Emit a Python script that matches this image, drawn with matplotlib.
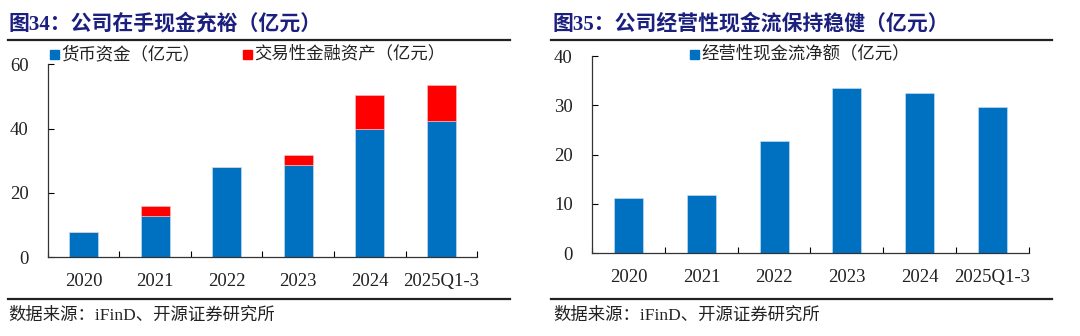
import numpy as np
import matplotlib
matplotlib.use("Agg")
import matplotlib.pyplot as plt
from matplotlib.lines import Line2D

plt.rcParams['font.family'] = ['Liberation Serif', 'Noto Sans CJK SC', 'DejaVu Sans']

# data
years = ["2020", "2021", "2022", "2023", "2024", "2025Q1-3"]
cash = [8.0, 12.8, 28.0, 28.6, 39.9, 42.4]
trading_assets = [0.0, 3.2, 0.1, 3.1, 10.6, 11.2]
op_cashflow = [11.2, 11.9, 22.8, 33.6, 32.4, 29.7]

title_left = "图34：公司在手现金充裕（亿元）"
title_right = "图35：公司经营性现金流保持稳健（亿元）"
source = "数据来源：iFinD、开源证券研究所"

blue = "#0070C0"
red = "#FF0000"
navy = "#1B1F7E"
cjk = ['Liberation Serif', 'Noto Sans CJK SC']

fig = plt.figure(figsize=(10.8, 3.36), dpi=100)


def style_axis(ax, ymax, step):
    x = np.arange(len(years))
    ax.set_xlim(-0.5, len(years) - 0.5)
    ax.set_ylim(0, ymax)
    ax.set_yticks(np.arange(0, ymax + 1, step))
    ax.set_xticks(x)
    ax.set_xticklabels(years)
    ax.set_xticks(np.arange(-0.5, len(years), 1.0), minor=True)
    ax.tick_params(axis='x', which='major', length=0, pad=11, labelsize=13.5, colors="#222222")
    ax.tick_params(axis='x', which='minor', direction='in', length=4, width=0.8)
    ax.tick_params(axis='y', direction='in', length=4, width=0.8, pad=14, labelsize=13.5,
                   labelcolor="#222222")
    for s in ['top', 'right']:
        ax.spines[s].set_visible(False)
    for s in ['left', 'bottom']:
        ax.spines[s].set_linewidth(0.9)
        ax.spines[s].set_color("#333333")
    return x


# left chart: cash + trading financial assets
ax1 = fig.add_axes([0.0444, 0.2342, 0.3973, 0.5744])
x = style_axis(ax1, 60, 20)
ax1.bar(x, cash, width=0.4, color=blue, edgecolor="#CFE3F5", linewidth=0.4)
ax1.bar(x, trading_assets, width=0.4, bottom=cash, color=red, edgecolor="#F8C8C8", linewidth=0.4)

# right chart: operating cash flow
ax2 = fig.add_axes([0.5484, 0.2461, 0.4041, 0.5872])
x = style_axis(ax2, 40, 10)
ax2.bar(x, op_cashflow, width=0.4, color=blue, edgecolor="#CFE3F5", linewidth=0.4)


# legends (square marker + text)
def legend_item(xf, yf, color, label):
    fig.patches.append(plt.Rectangle((xf, yf - 0.0125), 0.0080, 0.025, color=color,
                                     transform=fig.transFigure, figure=fig))
    fig.text(xf + 0.0105, yf, label, fontsize=12.5, color="#222222", va='center',
             family=cjk)


legend_item(0.0463, 0.838, blue, "货币资金（亿元）")
legend_item(0.2250, 0.838, red, "交易性金融资产（亿元）")
legend_item(0.6388, 0.838, blue, "经营性现金流净额（亿元）")

# titles and rules
fig.text(0.008, 0.929, title_left, fontsize=15, fontweight='bold', color=navy,
         va='center', family=cjk)
fig.text(0.512, 0.929, title_right, fontsize=15, fontweight='bold', color=navy,
         va='center', family=cjk)

for x0, x1 in [(0.007, 0.472), (0.510, 0.974)]:
    fig.add_artist(Line2D([x0, x1], [0.881, 0.881], color="#222222", lw=1.6,
                          transform=fig.transFigure))
    fig.add_artist(Line2D([x0, x1], [0.110, 0.110], color="#222222", lw=1.6,
                          transform=fig.transFigure))

fig.text(0.008, 0.062, source, fontsize=12.5, color="#222222", va='center', family=cjk)
fig.text(0.512, 0.062, source, fontsize=12.5, color="#222222", va='center', family=cjk)

fig.savefig("out.png", dpi=100)
